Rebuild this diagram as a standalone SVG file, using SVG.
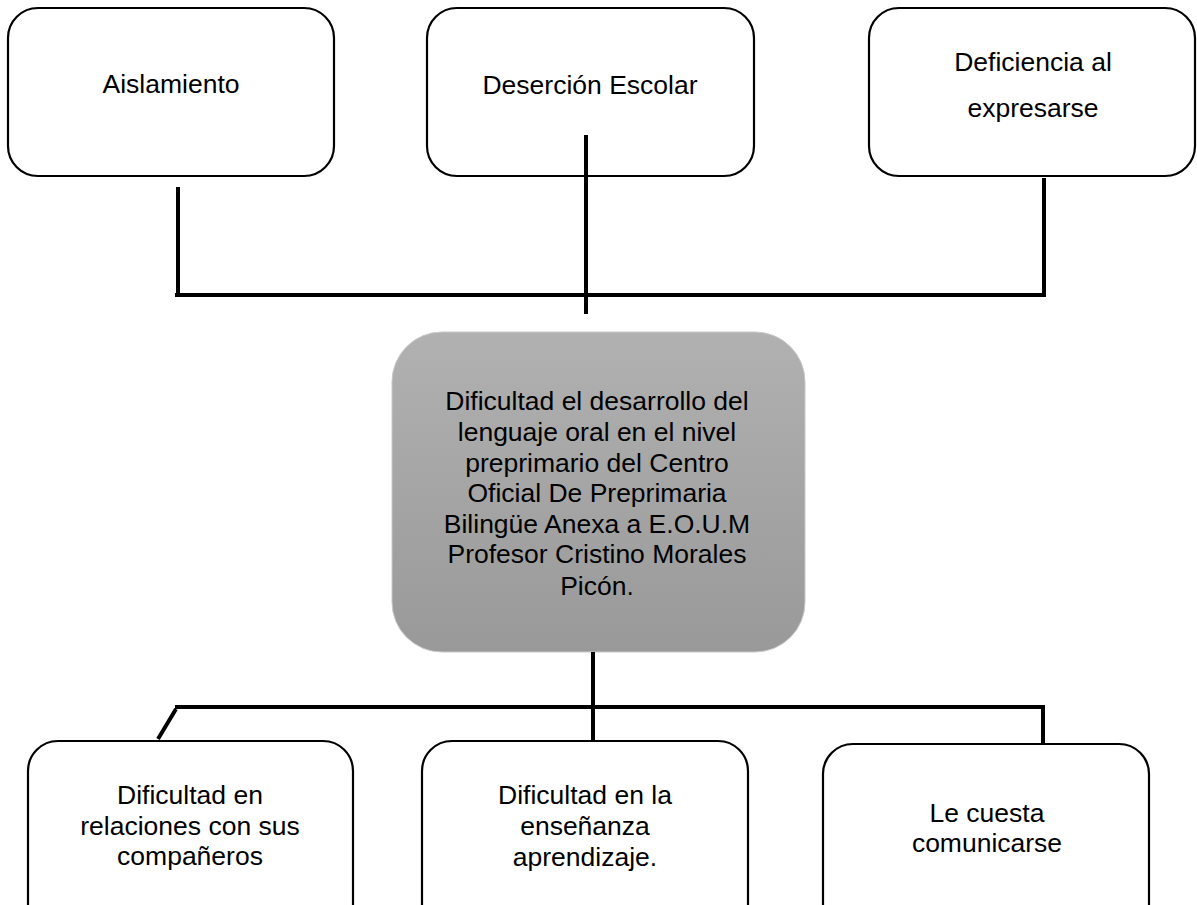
<svg xmlns="http://www.w3.org/2000/svg" width="1197" height="905" viewBox="0 0 1197 905">
<style>
.box{fill:#ffffff;stroke:#000000;stroke-width:2.2}
.txt{font-family:"Liberation Sans",Arial,sans-serif;font-size:26.5px;fill:#000000;text-anchor:middle}
.con{stroke:#000000;stroke-width:4;fill:none}
</style>
<defs>
<linearGradient id="g" x1="0" y1="0" x2="0" y2="1">
<stop offset="0" stop-color="#b1b1b1"/>
<stop offset="1" stop-color="#999999"/>
</linearGradient>
</defs>
<rect width="1197" height="905" fill="#ffffff"/>
<g id="aislamiento">
<rect class="box" x="8" y="8" width="326" height="168" rx="30"/>
<text class="txt" x="171" y="93">Aislamiento</text>
</g>
<g id="desercion">
<rect class="box" x="427" y="8" width="327" height="168" rx="30"/>
<text class="txt" x="590" y="94">Deserción Escolar</text>
</g>
<g id="deficiencia">
<rect class="box" x="869" y="8" width="326" height="168" rx="30"/>
<text class="txt" x="1033" y="71">Deficiencia al</text>
<text class="txt" x="1033" y="117">expresarse</text>
</g>
<g id="central">
<rect x="392" y="332" width="413" height="320" rx="50" fill="url(#g)" stroke="#c8c8c8" stroke-width="1"/>
<text class="txt" x="597" y="410">Dificultad el desarrollo del</text>
<text class="txt" x="597" y="441">lenguaje oral en el nivel</text>
<text class="txt" x="597" y="472">preprimario del Centro</text>
<text class="txt" x="597" y="502">Oficial De Preprimaria</text>
<text class="txt" x="597" y="533">Bilingüe Anexa a E.O.U.M</text>
<text class="txt" x="597" y="563">Profesor Cristino Morales</text>
<text class="txt" x="597" y="595">Picón.</text>
</g>
<g id="relaciones">
<rect class="box" x="28" y="741" width="325" height="200" rx="30"/>
<text class="txt" x="190" y="804">Dificultad en</text>
<text class="txt" x="190" y="835">relaciones con sus</text>
<text class="txt" x="190" y="865">compañeros</text>
</g>
<g id="ensenanza">
<rect class="box" x="422" y="741" width="326" height="200" rx="30"/>
<text class="txt" x="585" y="804">Dificultad en la</text>
<text class="txt" x="585" y="835">enseñanza</text>
<text class="txt" x="585" y="866">aprendizaje.</text>
</g>
<g id="comunicarse">
<rect class="box" x="823" y="744" width="326" height="200" rx="30"/>
<text class="txt" x="987" y="822">Le cuesta</text>
<text class="txt" x="987" y="852">comunicarse</text>
</g>
<g id="connectors">
<path class="con" d="M178,187 V295 M175,295 H1046 M1044,178 V295 M586,135 V314"/>
<path class="con" d="M593,652 V741 M175,707 H1045 M1043,707 V744 M176,709 L158,739"/>
</g>
</svg>
